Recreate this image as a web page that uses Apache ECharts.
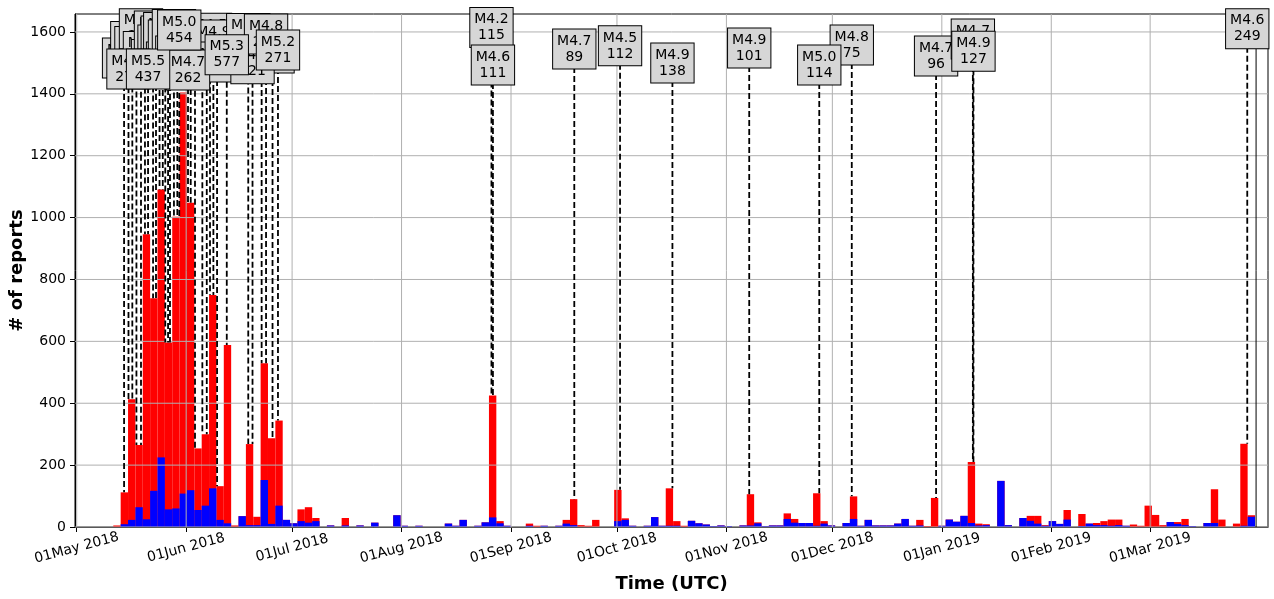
<!DOCTYPE html>
<html>
<head>
<meta charset="utf-8">
<title>reports histogram</title>
<script src="https://cdn.jsdelivr.net/npm/echarts@6.0.0/dist/echarts.min.js"></script>
<style>
  html, body { margin: 0; padding: 0; background: #fff; }
  #chart { width: 1274px; height: 599px; }
</style>
</head>
<body>
<div id="chart"></div>
<script>
const DAY = 24 * 3600 * 1000;

// histogram bins: first bin edge and bin width (days)
const binStart = Date.UTC(2018, 4, 11, 8, 46);
const binWidthDays = 2.086;

// all reports per bin (red) and subset (blue)
const redCounts = [
  5, 112, 413, 265, 946, 739, 1091, 596, 1003, 1404,
  1048, 254, 300, 750, 132, 588, 5, 35, 268, 33,
  529, 287, 344, 23, 12, 57, 64, 29, 0, 5,
  0, 29, 0, 5, 0, 14, 0, 0, 38, 4,
  0, 4, 0, 0, 0, 11, 4, 23, 0, 4,
  15, 425, 19, 4, 0, 0, 11, 4, 4, 0,
  4, 23, 90, 6, 4, 23, 0, 0, 120, 28,
  4, 0, 4, 32, 4, 125, 19, 4, 20, 12,
  8, 3, 5, 3, 0, 5, 106, 15, 3, 5,
  5, 44, 26, 13, 13, 109, 19, 5, 0, 13,
  99, 4, 23, 5, 5, 5, 11, 26, 4, 23,
  3, 94, 4, 24, 17, 36, 210, 11, 9, 0,
  149, 6, 0, 29, 36, 36, 6, 19, 10, 55,
  0, 42, 11, 13, 19, 24, 24, 4, 8, 4,
  69, 39, 6, 16, 16, 26, 3, 0, 13, 122,
  24, 0, 11, 269, 38
];
const blueCounts = [
  0, 9, 23, 64, 25, 117, 225, 57, 60, 108,
  119, 55, 69, 125, 23, 12, 0, 35, 6, 6,
  152, 10, 69, 23, 12, 19, 14, 19, 0, 5,
  0, 5, 0, 5, 0, 14, 0, 0, 38, 4,
  0, 4, 0, 0, 0, 11, 4, 23, 0, 4,
  15, 31, 12, 4, 0, 0, 4, 0, 4, 0,
  4, 11, 6, 0, 0, 0, 0, 0, 19, 23,
  4, 0, 4, 32, 4, 4, 4, 0, 20, 12,
  8, 3, 5, 3, 0, 5, 5, 12, 3, 5,
  5, 26, 14, 13, 13, 4, 11, 5, 0, 13,
  26, 4, 23, 5, 5, 5, 11, 26, 4, 5,
  0, 0, 4, 24, 17, 36, 13, 5, 6, 0,
  149, 6, 0, 29, 20, 11, 4, 19, 10, 24,
  0, 3, 11, 6, 6, 4, 6, 4, 0, 0,
  0, 0, 0, 16, 10, 6, 3, 0, 13, 13,
  0, 0, 0, 4, 33
];

// annotated events, in drawing order (later ones sit on top)
const eventTimes = [
  '2018-05-14T10:00Z', '2018-05-16T18:00Z', '2018-05-17T22:00Z', '2018-05-19T05:00Z',
  '2018-05-20T08:00Z', '2018-05-22T15:00Z', '2018-05-23T11:00Z', '2018-05-24T11:00Z',
  '2018-05-25T09:00Z', '2018-05-26T02:00Z', '2018-05-26T21:00Z', '2018-05-27T10:00Z',
  '2018-05-28T13:00Z', '2018-05-29T12:00Z', '2018-06-02T07:00Z', '2018-06-03T12:00Z',
  '2018-06-05T14:00Z', '2018-06-06T20:00Z', '2018-06-07T18:00Z', '2018-06-08T17:00Z',
  '2018-06-09T18:00Z', '2018-06-22T09:00Z', '2018-06-25T11:00Z', '2018-06-19T19:00Z',
  '2018-05-15T16:00Z', '2018-06-01T12:30Z', '2018-06-18T14:00Z', '2018-06-23T15:00Z',
  '2018-05-21T05:00Z', '2018-05-30T01:00Z', '2018-06-12T12:00Z', '2018-06-27T00:00Z',
  '2018-08-26T11:00Z', '2018-08-26T21:00Z', '2018-09-18T22:00Z', '2018-10-01T21:00Z',
  '2018-10-16T17:00Z', '2018-11-07T11:00Z', '2018-12-06T12:00Z', '2018-11-27T07:00Z',
  '2018-12-30T09:00Z', '2019-01-09T19:00Z', '2019-01-09T23:00Z', '2019-03-28T12:00Z'
];
const eventMags = [
  4.4, 4.3, 4.5, 4.6, 4.4, 4.6, 4.5, 4.3, 4.8, 4.4, 4.6, 4.2,
  4.7, 4.5, 4.4, 4.3, 4.6, 4.2, 4.5, 4.9, 4.4, 4.5, 4.3, 4.6,
  4.9, 4.7, 5.0, 4.8, 5.5, 5.0, 5.3, 5.2,
  4.2, 4.6, 4.7, 4.5, 4.9, 4.9, 4.8, 5.0, 4.7, 4.7, 4.9, 4.6
];
const eventCounts = [
  198, 154, 189, 206, 173, 190, 244, 167, 312, 201, 229, 158,
  265, 182, 187, 149, 211, 133, 160, 308, 142, 176, 118, 221,
  276, 262, 318, 236, 437, 454, 577, 271,
  115, 111, 89, 112, 138, 101, 75, 114, 96, 83, 127, 249
];
// height of the label box centre (# of reports)
const labelHeights = [
  1516, 1569, 1553, 1610, 1537, 1511, 1603, 1558, 1587, 1598, 1503, 1574,
  1608, 1522, 1590, 1526, 1580, 1558, 1596, 1574, 1503, 1558, 1532, 1497,
  1480, 1477, 1595, 1593, 1480, 1606, 1526, 1542,
  1614, 1493, 1545, 1555, 1500, 1548, 1558, 1493, 1522, 1577, 1538, 1610
];

// end-of-data marker
const endLineTime = '2019-03-31T00:00Z';

// x ticks (first of each month) and y ticks
const monthTicks = [
  '2018-05-01', '2018-06-01', '2018-07-01', '2018-08-01', '2018-09-01', '2018-10-01',
  '2018-11-01', '2018-12-01', '2019-01-01', '2019-02-01', '2019-03-01'
];
const yTicks = [0, 200, 400, 600, 800, 1000, 1200, 1400, 1600];
const monthNames = ['Jan', 'Feb', 'Mar', 'Apr', 'May', 'Jun', 'Jul', 'Aug', 'Sep', 'Oct', 'Nov', 'Dec'];

const xMin = Date.UTC(2018, 3, 30, 12, 26);
const xMax = Date.UTC(2019, 3, 3, 9, 0);
const yMax = 1658;

const binWidth = binWidthDays * DAY;
const tickTimes = monthTicks.map(d => Date.parse(d + 'T00:00:00Z'));

function binRows(counts) {
  const rows = [];
  counts.forEach((v, i) => {
    if (v > 0) {
      rows.push([binStart + i * binWidth, binStart + (i + 1) * binWidth, v]);
    }
  });
  return rows;
}

function barTopAt(t) {
  const i = Math.floor((t - binStart) / binWidth);
  return Math.max(redCounts[i] || 0, blueCounts[i] || 0);
}

const eventRows = eventTimes.map((s, i) => {
  const t = Date.parse(s);
  return [t, labelHeights[i], barTopAt(t), 'M' + eventMags[i].toFixed(1) + '\n' + eventCounts[i]];
});

const gridRows = [];
yTicks.forEach(v => gridRows.push([0, v]));
tickTimes.forEach(t => gridRows.push([1, t]));

function renderBar(color) {
  return function (params, api) {
    const p0 = api.coord([api.value(0), api.value(2)]);
    const p1 = api.coord([api.value(1), 0]);
    return {
      type: 'rect',
      shape: { x: p0[0], y: p0[1], width: p1[0] - p0[0], height: p1[1] - p0[1] },
      style: { fill: color }
    };
  };
}

const chart = echarts.init(document.getElementById('chart'), null, { renderer: 'canvas' });

const option = {
  animation: false,
  backgroundColor: '#fff',
  textStyle: { fontFamily: 'DejaVu Sans' },
  grid: {
    left: 75, right: 6, top: 14, bottom: 72,
    containLabel: false,
    outerBoundsMode: 'none',
    show: true, borderColor: '#000', borderWidth: 1, backgroundColor: 'transparent'
  },
  xAxis: {
    type: 'value',
    min: xMin,
    max: xMax,
    name: 'Time (UTC)',
    nameLocation: 'middle',
    nameGap: 48,
    nameMoveOverlap: false,
    nameTextStyle: { fontWeight: 'bold', fontSize: 18, color: '#000', fontFamily: 'DejaVu Sans' },
    axisLine: { show: true, onZero: false, lineStyle: { color: '#000', width: 1 } },
    axisTick: { show: true, customValues: tickTimes, length: 5, lineStyle: { color: '#000' } },
    axisLabel: {
      customValues: tickTimes,
      rotate: 15,
      align: 'center',
      verticalAlign: 'middle',
      margin: 21,
      color: '#000',
      fontSize: 14,
      fontFamily: 'DejaVu Sans',
      formatter: function (v) {
        const d = new Date(v);
        const day = String(d.getUTCDate()).padStart(2, '0');
        return day + monthNames[d.getUTCMonth()] + ' ' + d.getUTCFullYear();
      }
    },
    splitLine: { show: false }
  },
  yAxis: {
    type: 'value',
    min: 0,
    max: yMax,
    name: '# of reports',
    nameLocation: 'middle',
    nameGap: 49,
    nameMoveOverlap: false,
    nameTextStyle: { fontWeight: 'bold', fontSize: 18, color: '#000', fontFamily: 'DejaVu Sans' },
    axisLine: { show: true, lineStyle: { color: '#000', width: 1 } },
    axisTick: { show: true, customValues: yTicks, length: 5, lineStyle: { color: '#000' } },
    axisLabel: {
      customValues: yTicks,
      margin: 9,
      color: '#000',
      fontSize: 14,
      fontFamily: 'DejaVu Sans',
      formatter: function (v) { return String(v); }
    },
    splitLine: { show: false }
  },
  series: [
    {
      // all reports
      type: 'custom',
      z: 1,
      silent: true,
      renderItem: renderBar('#ff0000'),
      encode: { x: [0, 1], y: 2 },
      data: binRows(redCounts)
    },
    {
      type: 'custom',
      z: 2,
      silent: true,
      renderItem: renderBar('#0000ff'),
      encode: { x: [0, 1], y: 2 },
      data: binRows(blueCounts)
    },
    {
      // grid lines sit above the bars, as in the original
      type: 'custom',
      z: 3,
      silent: true,
      renderItem: function (params, api) {
        let a, b;
        if (api.value(0) === 0) {
          a = api.coord([xMin, api.value(1)]);
          b = api.coord([xMax, api.value(1)]);
        } else {
          a = api.coord([api.value(1), 0]);
          b = api.coord([api.value(1), yMax]);
        }
        return {
          type: 'line',
          shape: { x1: a[0], y1: a[1], x2: b[0], y2: b[1] },
          style: { stroke: '#b0b0b0', lineWidth: 1 }
        };
      },
      data: gridRows
    },
    {
      // end marker
      type: 'custom',
      z: 4,
      silent: true,
      renderItem: function (params, api) {
        const a = api.coord([api.value(0), 0]);
        const b = api.coord([api.value(0), yMax]);
        return {
          type: 'line',
          shape: { x1: a[0], y1: a[1], x2: b[0], y2: b[1] },
          style: { stroke: '#000', lineWidth: 1 }
        };
      },
      data: [[Date.parse(endLineTime)]]
    },
    {
      // dashed leaders from label to bar top
      type: 'custom',
      z: 5,
      silent: true,
      renderItem: function (params, api) {
        const a = api.coord([api.value(0), api.value(1)]);
        const b = api.coord([api.value(0), api.value(2)]);
        return {
          type: 'line',
          shape: { x1: a[0], y1: a[1], x2: b[0], y2: b[1] },
          style: { stroke: '#000', lineWidth: 1.8, lineDash: [6, 3] }
        };
      },
      data: eventRows.map(r => [r[0], r[1], r[2]])
    },
    {
      // magnitude / count boxes
      type: 'custom',
      z: 6,
      silent: true,
      renderItem: function (params, api) {
        const p = api.coord([api.value(0), api.value(1)]);
        return {
          type: 'text',
          style: {
            x: p[0],
            y: p[1],
            text: eventRows[params.dataIndex][3],
            align: 'center',
            verticalAlign: 'middle',
            fill: '#000',
            font: '14px "DejaVu Sans"',
            lineHeight: 16,
            backgroundColor: '#d6d6d6',
            borderColor: '#000',
            borderWidth: 1,
            padding: [4, 4, 3, 4]
          }
        };
      },
      data: eventRows.map(r => [r[0], r[1]])
    }
  ]
};

chart.setOption(option);
</script>
</body>
</html>
